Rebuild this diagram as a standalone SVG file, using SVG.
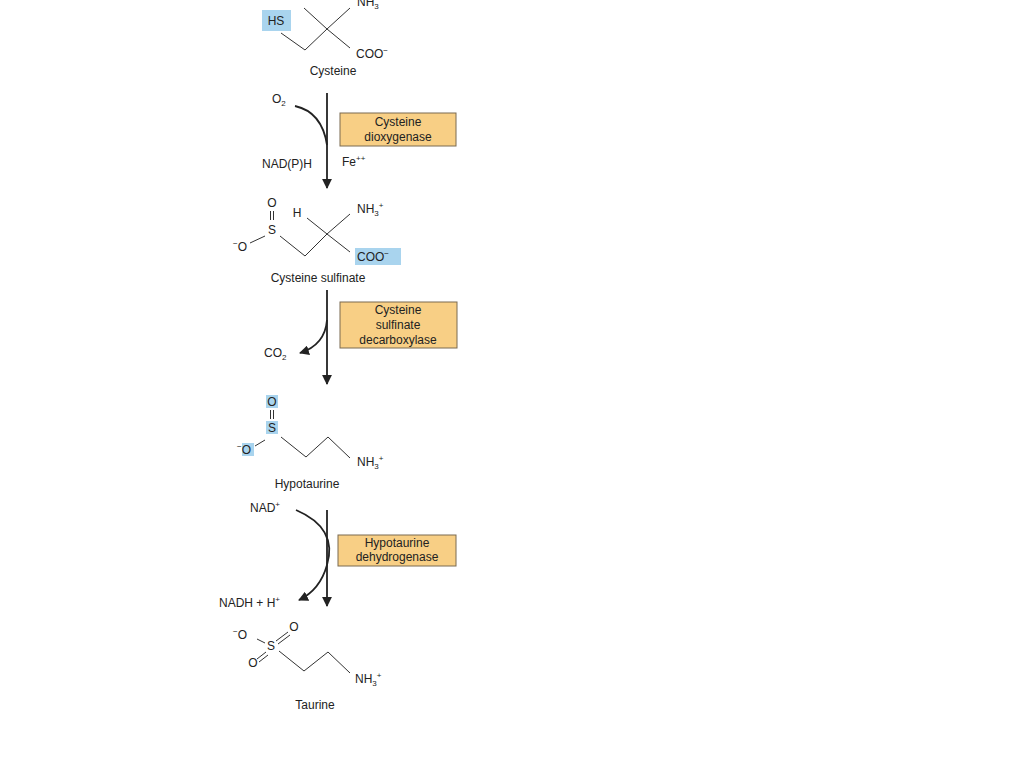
<svg xmlns="http://www.w3.org/2000/svg" width="1024" height="768" viewBox="0 0 1024 768">
<defs>
<marker id="ah" viewBox="0 0 10 10" refX="9" refY="5" markerWidth="5.5" markerHeight="5.5" orient="auto"><path d="M0,0 L10,5 L0,10 z" fill="#222"/></marker>
<style>
text{font-family:"Liberation Sans",Arial,sans-serif;font-size:12px;fill:#222}
.c{text-anchor:middle}
.b{fill:none;stroke:#333;stroke-width:1}
.a{fill:none;stroke:#222;stroke-width:1.8}
.enz{fill:#f8cf85;stroke:#7a6a50;stroke-width:1}
.hl{fill:#a9d4ee}
.s{font-size:8px}
</style>
</defs>
<rect width="1024" height="768" fill="#fff"/>

<g id="cysteine">
<rect class="hl" x="262" y="10" width="29" height="21"/>
<text x="276" y="25" class="c">HS</text>
<path class="b" d="M281,33 L305,50 L327,29 L350,8 M327,29 L350,48 M327,29 L304,8"/>
<text x="357" y="6">NH<tspan class="s" dy="3">3</tspan><tspan class="s" dy="-8">+</tspan></text>
<text x="356" y="58">COO<tspan class="s" dy="-5">−</tspan></text>
<text x="333" y="75" class="c">Cysteine</text>
</g>

<g id="sulfinate">
<text x="272" y="207" class="c">O</text>
<path class="b" d="M270.5,211 V220 M273.5,211 V220"/>
<text x="272" y="234" class="c">S</text>
<text x="240" y="251" class="c"><tspan class="s" dy="-5">−</tspan><tspan dy="5">O</tspan></text>
<path class="b" d="M250,243 L265,236 M280,236 L305,256 L327,234 L350,214 M327,234 L350,252 M327,234 L307,218"/>
<text x="297" y="217" class="c">H</text>
<text x="357" y="213">NH<tspan class="s" dy="3">3</tspan><tspan class="s" dy="-8">+</tspan></text>
<rect class="hl" x="355" y="248" width="46" height="17"/>
<text x="357" y="261">COO<tspan class="s" dy="-5">−</tspan></text>
<text x="318" y="282" class="c">Cysteine sulfinate</text>
</g>

<g id="hypotaurine">
<rect class="hl" x="266" y="395" width="12" height="13"/>
<text x="272" y="406" class="c">O</text>
<path class="b" d="M270.5,410 V419 M273.5,410 V419"/>
<rect class="hl" x="266" y="421" width="12" height="13"/>
<text x="272" y="432" class="c">S</text>
<rect class="hl" x="242" y="443" width="12" height="13"/>
<text x="244" y="454" class="c"><tspan class="s" dy="-5">−</tspan><tspan dy="5">O</tspan></text>
<path class="b" d="M255,446 L265,440 M281,437 L306,457 L328,437 L350,458"/>
<text x="357" y="466">NH<tspan class="s" dy="3">3</tspan><tspan class="s" dy="-8">+</tspan></text>
<text x="307" y="488" class="c">Hypotaurine</text>
</g>

<g id="taurine">
<text x="240" y="639" class="c"><tspan class="s" dy="-5">−</tspan><tspan dy="5">O</tspan></text>
<path class="b" d="M257,639 L265,643"/>
<text x="271" y="650" class="c">S</text>
<text x="294" y="631" class="c">O</text>
<path class="b" d="M276,641 L288,632 M278,644 L290,635"/>
<text x="253" y="667" class="c">O</text>
<path class="b" d="M257,659 L266,652 M259,662 L268,655"/>
<path class="b" d="M279,651 L304,671 L328,652 L350,673"/>
<text x="355" y="683">NH<tspan class="s" dy="3">3</tspan><tspan class="s" dy="-8">+</tspan></text>
<text x="315" y="709" class="c">Taurine</text>
</g>

<g id="enzymes">
<rect class="enz" x="340" y="113" width="116" height="33"/>
<text x="398" y="126" class="c">Cysteine</text>
<text x="398" y="141" class="c">dioxygenase</text>
<rect class="enz" x="340" y="302" width="117" height="46"/>
<text x="398" y="314" class="c">Cysteine</text>
<text x="398" y="329" class="c">sulfinate</text>
<text x="398" y="344" class="c">decarboxylase</text>
<rect class="enz" x="338" y="535" width="118" height="31"/>
<text x="397" y="547" class="c">Hypotaurine</text>
<text x="397" y="561" class="c">dehydrogenase</text>
</g>

<g id="labels">
<text x="272" y="103">O<tspan class="s" dy="3">2</tspan></text>
<text x="262" y="168">NAD(P)H</text>
<text x="342" y="166">Fe<tspan class="s" dy="-5">++</tspan></text>
<text x="264" y="357">CO<tspan class="s" dy="3">2</tspan></text>
<text x="250" y="512">NAD<tspan class="s" dy="-5">+</tspan></text>
<text x="219" y="607">NADH + H<tspan class="s" dy="-5">+</tspan></text>
</g>

<g id="connectors">
<path class="a" d="M327,93 V188" marker-end="url(#ah)"/>
<path class="a" d="M295,106 Q322,112 327,145"/>
<path class="a" d="M327,290 V384" marker-end="url(#ah)"/>
<path class="a" d="M327,320 Q325,345 300,353" marker-end="url(#ah)"/>
<path class="a" d="M327,510 V606" marker-end="url(#ah)"/>
<path class="a" d="M296,510 Q338,528 327,565 Q320,590 299,600" marker-end="url(#ah)"/>
</g>
</svg>
